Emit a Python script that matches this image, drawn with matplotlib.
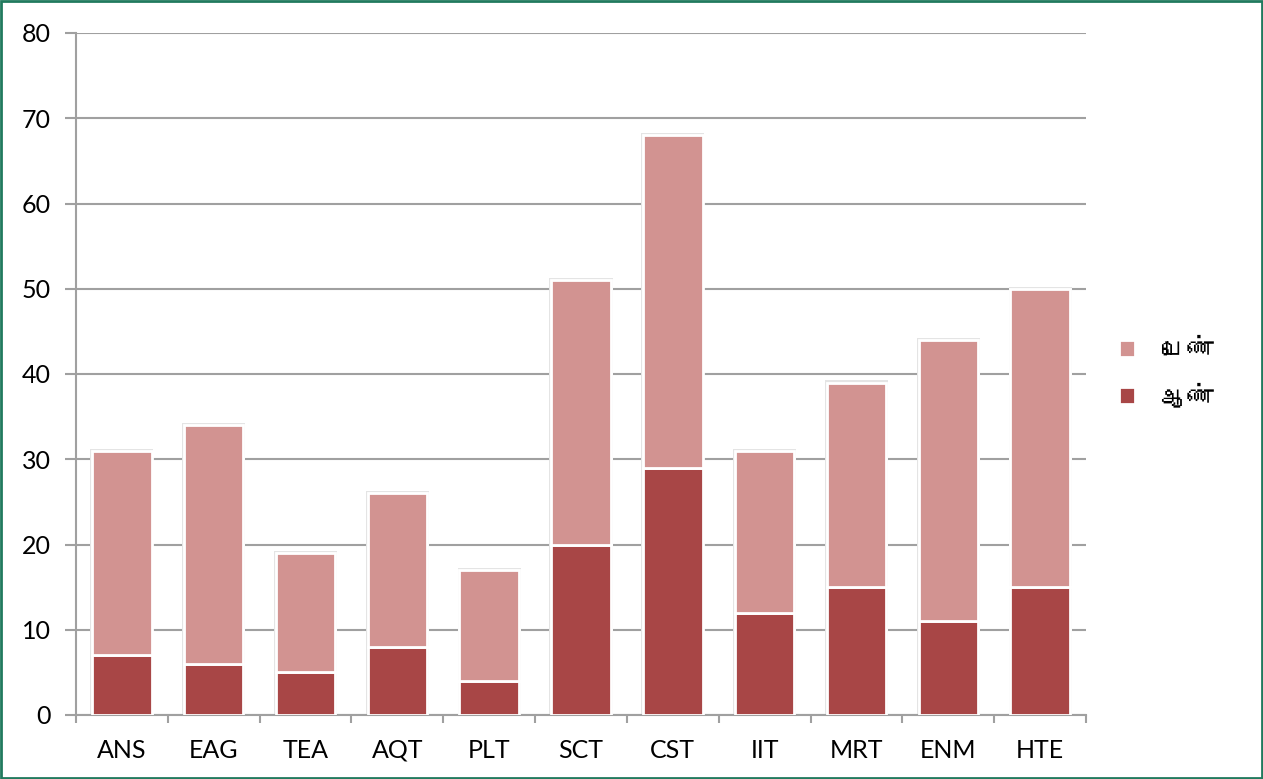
import matplotlib
matplotlib.use("Agg")
import matplotlib.pyplot as plt
from matplotlib import font_manager
from matplotlib.ft2font import FT2Font
from matplotlib.patches import Rectangle
import numpy as np

categories = ["ANS", "EAG", "TEA", "AQT", "PLT", "SCT", "CST", "IIT", "MRT", "ENM", "HTE"]
male = [7, 6, 5, 8, 4, 20, 29, 12, 15, 11, 15]      # ஆண்
female = [24, 28, 14, 18, 13, 31, 39, 19, 24, 33, 35]  # பெண்
yticks = [0, 10, 20, 30, 40, 50, 60, 70, 80]

# find a font with Tamil glyphs
tamil_font = None
for f in font_manager.fontManager.ttflist:
    try:
        ft = FT2Font(f.fname)
        cm = ft.get_charmap()
        if 0x0BAA in cm and 0x0BA3 in cm:
            tamil_font = f.name
            break
    except Exception:
        pass

base = "Lato"
plt.rcParams['font.family'] = [base, 'DejaVu Sans']
legend_family = [tamil_font, base, 'DejaVu Sans'] if tamil_font else [base, 'DejaVu Sans']

c_male = "#A84646"
c_female = "#D29391"
grid_c = "#A0A0A0"

L, R, T, B = 76, 1086, 33, 715
fig = plt.figure(figsize=(12.63, 7.79), dpi=100)
ax = fig.add_axes([L/1263, 1 - B/779, (R-L)/1263, (B-T)/779])

x = np.arange(len(categories))
w = 0.647
totals = np.array(male) + np.array(female)
# soft shadow behind bars
ax.bar(x, totals + 0.25, w + 0.04, color="#E4E4E4", linewidth=0, zorder=2)
ax.bar(x, male, w, color=c_male, edgecolor="white", linewidth=2, label="ஆண்", zorder=3)
ax.bar(x, female, w, bottom=male, color=c_female, edgecolor="white", linewidth=2, label="பெண்", zorder=3)

ax.set_xlim(-0.5, len(categories) - 0.5)
ax.set_ylim(0, 80)
ax.set_yticks(yticks)
ax.set_yticklabels([str(v) for v in yticks], fontsize=18)
ax.yaxis.grid(True, color=grid_c, linewidth=1.5, zorder=0)
ax.set_axisbelow(True)

ax.set_xticks(np.arange(-0.5, len(categories)), minor=False)
ax.set_xticklabels([])
ax.set_xticks(x, minor=True)
ax.set_xticklabels(categories, minor=True, fontsize=18)
ax.tick_params(axis='x', which='major', length=6, width=1.5, color=grid_c, direction='out')
ax.tick_params(axis='x', which='minor', length=0, pad=17)
ax.tick_params(axis='y', length=8, width=1.5, color=grid_c, pad=10)

for s in ["top", "right"]:
    ax.spines[s].set_visible(False)
for s in ["left", "bottom"]:
    ax.spines[s].set_color(grid_c)
    ax.spines[s].set_linewidth(1.5)

handles, labels = ax.get_legend_handles_labels()
leg = fig.legend(handles[::-1], labels[::-1], loc="center left",
                 bbox_to_anchor=(1095/1263, 1 - 374/779), frameon=False,
                 prop={'family': legend_family, 'size': 19},
                 handlelength=0.6, handleheight=0.6, labelspacing=0.85, handletextpad=1.0)

fig.patches.append(Rectangle((0.001, 0.001), 0.998, 0.998, transform=fig.transFigure,
                             fill=False, edgecolor="#217A5E", linewidth=2))

fig.savefig("out.png", dpi=100)
